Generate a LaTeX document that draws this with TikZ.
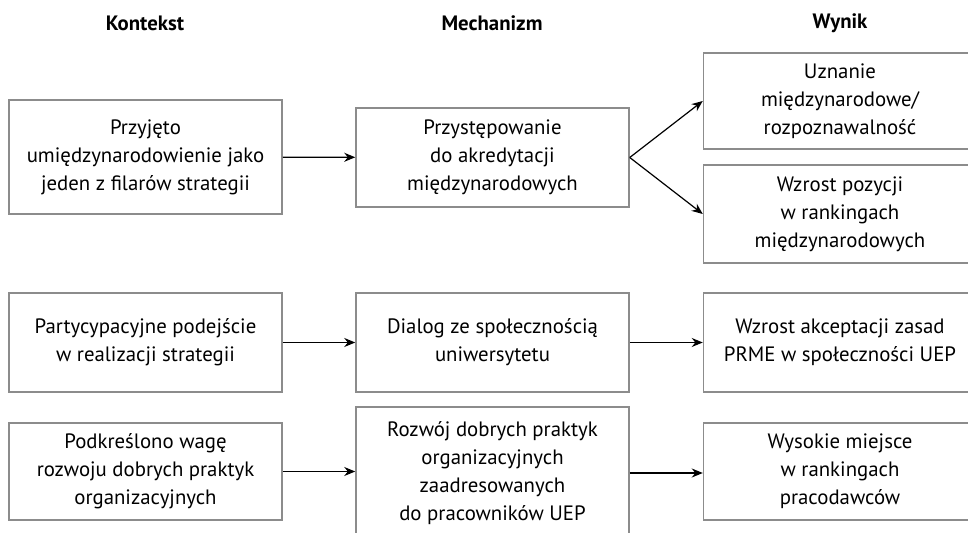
\documentclass[tikz,border=0pt]{standalone}
\usepackage{fontspec}
\setmainfont{PT Sans}
\usepackage{tikz}
\usetikzlibrary{arrows, arrows.meta, calc, positioning}

\begin{document}
\begin{tikzpicture}[x=0.5pt, y=-0.5pt, arrow/.style = {line width=0.6pt,-{Stealth[length=5.5pt,width=4.5pt]}}]
		\tikzset{box/.style={draw=black!45,line width=0.75pt,rectangle,inner sep=0pt,align=center,minimum width=136.5pt,font=\fontsize{10.4}{14}\selectfont}}
		\tikzset{head/.style={font=\fontsize{10.4}{14}\selectfont\bfseries}}
		\useasboundingbox (0,0) rectangle (968,533);

		\node[head] (hctx) at (145,23) {Kontekst};
		\node[head] (hmech) at (492,23) {Mechanizm};
		\node[head] (hres) at (840,23) {Wynik};

		% wiersz 1
		\node[box, minimum height=57pt] (ctx1) at (145.5,157) {Przyjęto\\umiędzynarodowienie jako\\jeden z filarów strategii};
		\node[box, minimum height=49.5pt] (mech1) at (492.5,157.5) {Przystępowanie\\do akredytacji\\międzynarodowych};
		\node[box, minimum height=48pt] (res1a) at (840,101) {Uznanie\\międzynarodowe/\\rozpoznawalność};
		\node[box, minimum height=49pt] (res1b) at (840,214) {Wzrost pozycji\\w rankingach\\międzynarodowych};

		% wiersz 2
		\node[box, minimum height=49.5pt] (ctx2) at (145.5,342.5) {Partycypacyjne podejście\\w realizacji strategii};
		\node[box, minimum height=49.5pt] (mech2) at (492.5,342.5) {Dialog ze społecznością\\uniwersytetu};
		\node[box, minimum height=49.5pt] (res2) at (840,342.5) {Wzrost akceptacji zasad\\PRME w społeczności UEP};

		% wiersz 3
		\node[box, minimum height=48.5pt] (ctx3) at (145.5,471.5) {Podkreślono wagę\\rozwoju dobrych praktyk\\organizacyjnych};
		\node[box, minimum height=66pt] (mech3) at (492.5,473) {Rozwój dobrych praktyk\\organizacyjnych\\zaadresowanych\\do pracowników UEP};
		\node[box, minimum height=48.5pt] (res3) at (840,471.5) {Wysokie miejsce\\w rankingach\\pracodawców};

		\draw [arrow] (ctx1) -- (mech1);
		\draw [arrow] (mech1.east) -- (res1a.west);
		\draw [arrow] (mech1.east) -- (res1b.west);
		\draw [arrow] (ctx2) -- (mech2);
		\draw [arrow] (mech2) -- (res2);
		\draw [arrow] (ctx3.east) -- (ctx3.east -| mech3.west);
		\draw [arrow] (mech3.east) -- (mech3.east -| res3.west);

	\end{tikzpicture}
\end{document}
